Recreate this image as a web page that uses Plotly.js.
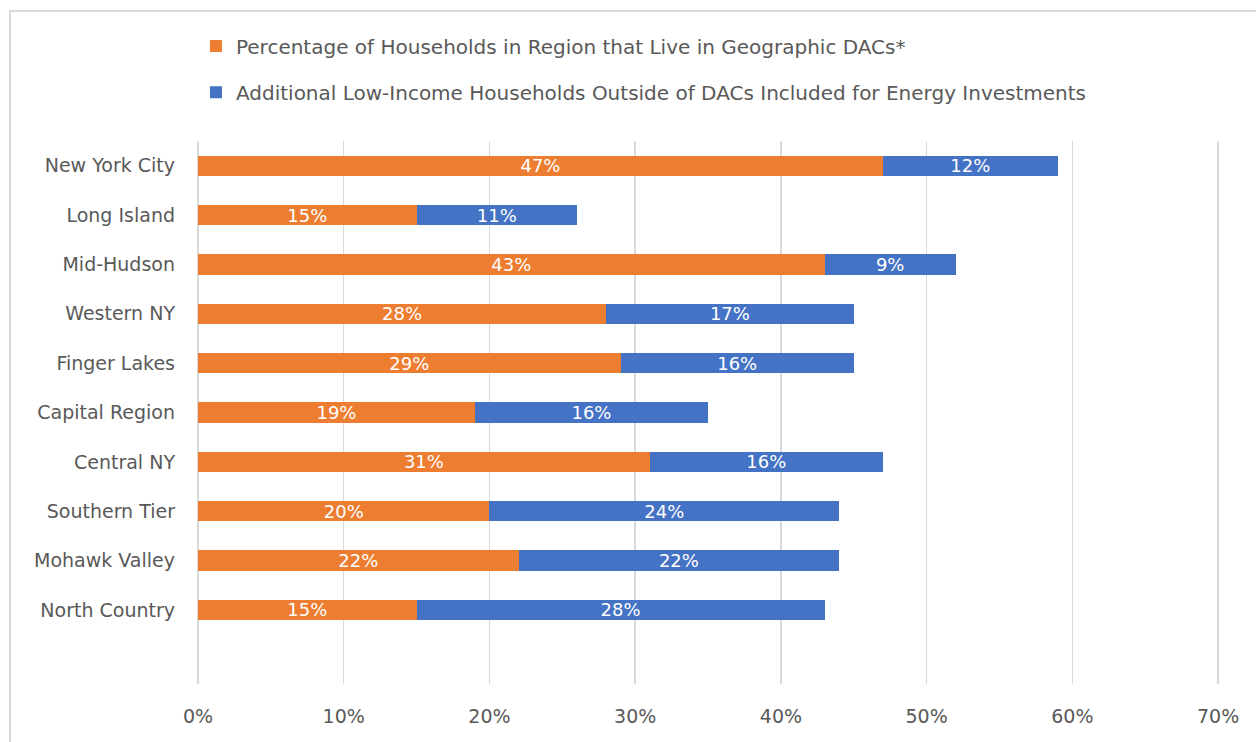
<!DOCTYPE html>
<html>
<head>
<meta charset="utf-8">
<script src="https://cdn.plot.ly/plotly-3.0.1.min.js"></script>
<style>
html,body{margin:0;padding:0;background:#fff;}
#wrap{position:relative;width:1256px;height:742px;}
#chart{position:absolute;left:0;top:0;width:1256px;height:742px;}
#frame{position:absolute;left:9px;top:10px;width:1247px;height:732px;border-top:2px solid #d9d9d9;border-left:2px solid #d9d9d9;pointer-events:none;}
</style>
</head>
<body>
<div id="wrap"><div id="chart"></div><div id="frame"></div></div>
<script>
const regions = ["New York City","Long Island","Mid-Hudson","Western NY","Finger Lakes","Capital Region","Central NY","Southern Tier","Mohawk Valley","North Country"];
const dacShare = [47,15,43,28,29,19,31,20,22,15];
const lowIncomeShare = [12,11,9,17,16,16,16,24,22,28];
const seriesNames = ["Percentage of Households in Region that Live in Geographic DACs*","Additional Low-Income Households Outside of DACs Included for Energy Investments"];
const xTicks = [0,10,20,30,40,50,60,70];
const xTickLabels = ["0%","10%","20%","30%","40%","50%","60%","70%"];

const FONT = "DejaVu Sans, sans-serif";
const gray = "#595959";
const FS = 19;

const common = {
  type: "bar", orientation: "h", y: regions,
  texttemplate: "%{x:.0f}%", textposition: "inside", insidetextanchor: "middle",
  constraintext: "none",
  textfont: {family: FONT, size: 18, color: "#ffffff"},
  hoverinfo: "x+y"
};
const traces = [
  Object.assign({}, common, {x: dacShare, name: seriesNames[0], marker: {color: "#ED7D31"}, legend: "legend"}),
  Object.assign({}, common, {x: lowIncomeShare, name: seriesNames[1], marker: {color: "#4472C4"}, legend: "legend2"})
];

const legStyle = {font: {family: FONT, size: 20, color: gray}, bgcolor: "rgba(0,0,0,0)", xanchor: "left", yanchor: "middle", itemwidth: 30};
const layout = {
  width: 1256, height: 742,
  margin: {l: 198, r: 35, t: 141, b: 58, autoexpand: false},
  paper_bgcolor: "#ffffff", plot_bgcolor: "#ffffff",
  barmode: "stack", bargap: 0.59,
  font: {family: FONT, size: FS, color: gray},
  xaxis: {range: [0,70.2], tickmode: "array", tickvals: xTicks, ticktext: xTickLabels, showgrid: true, gridcolor: "#d9d9d9", gridwidth: 1.5,
          zeroline: true, zerolinecolor: "#d9d9d9", zerolinewidth: 1.5, showline: false, ticks: "", ticklabelstandoff: 19,
          tickfont: {family: FONT, size: FS, color: gray}, fixedrange: true, automargin: false},
  yaxis: {type: "category", categoryorder: "array", categoryarray: regions, range: [10.5, -0.5], showgrid: false, zeroline: false,
          ticks: "", ticklabelstandoff: 22, tickfont: {family: FONT, size: FS, color: gray}, fixedrange: true, automargin: false},
  legend: Object.assign({}, legStyle, {x: -0.002, y: 1.175}),
  legend2: Object.assign({}, legStyle, {x: -0.002, y: 1.090}),
  showlegend: true
};
Plotly.newPlot("chart", traces, layout, {displayModeBar: false, staticPlot: true});
</script>
</body>
</html>
